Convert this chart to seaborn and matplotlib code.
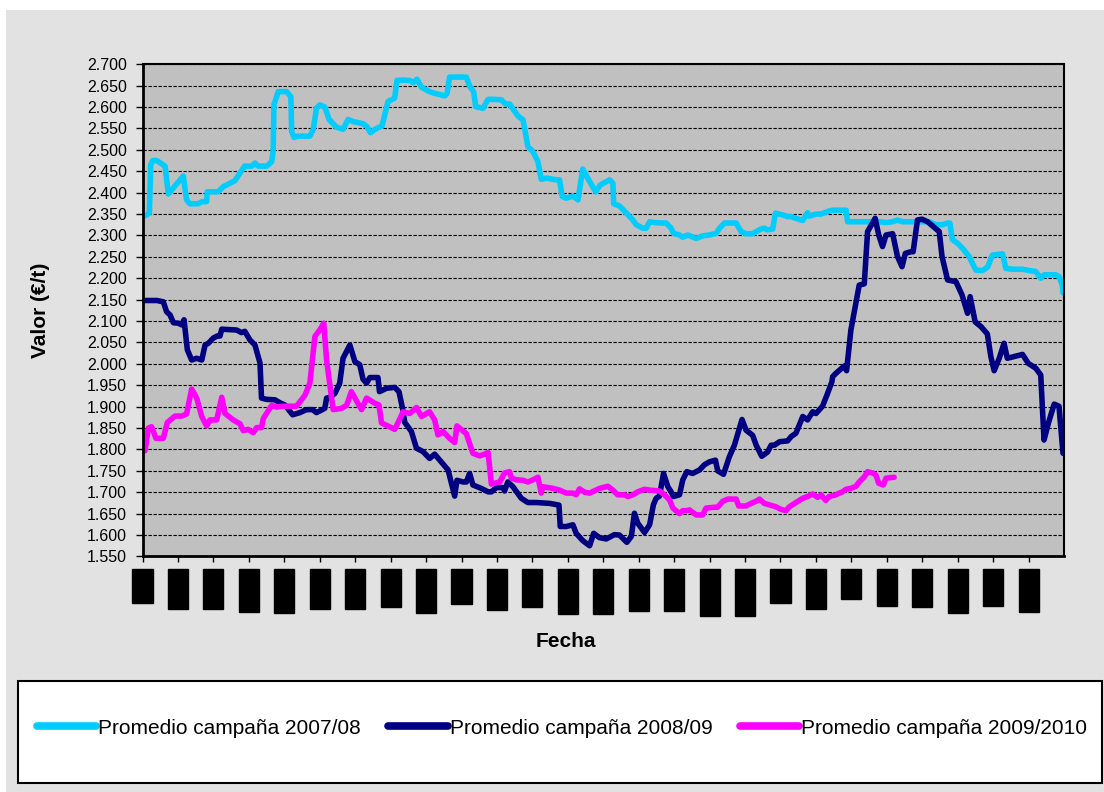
import pandas as pd
import matplotlib.pyplot as plt
import seaborn as sns
from matplotlib.lines import Line2D
from matplotlib.patches import Rectangle

# ---------------------------------------------------------------
# Datos (día de campaña, €/t)
# ---------------------------------------------------------------
dias_0708 = [1.0, 2.7, 3.2, 4.0, 5.6, 8.9, 10.2, 16.1, 17.4, 18.7, 22.0, 23.4, 25.3, 25.6, 29.9, 31.9,
             36.5, 40.3, 43.1, 44.4, 45.7, 49.0, 51.0, 51.6, 51.9, 53.6, 56.9, 58.6, 58.9, 59.8, 61.5,
             66.1, 67.4, 68.7, 70.0, 72.0, 73.7, 76.6, 79.2, 81.2, 83.2, 87.1, 88.7, 90.0, 92.4, 94.6,
             95.7, 97.0, 99.6, 100.5, 102.9, 105.6, 106.9, 108.4, 110.2, 113.4, 115.4, 119.4, 120.3,
             121.3, 127.9, 129.2, 130.8, 131.6, 134.5, 136.5, 138.4, 141.7, 143.4, 145.0, 148.3, 150.3,
             152.2, 154.2, 156.2, 157.5, 159.5, 163.4, 164.7, 165.8, 167.4, 170.0, 172.0, 173.9, 176.6,
             179.0, 180.8, 184.5, 185.8, 186.1, 188.4, 191.1, 193.7, 195.0, 197.6, 199.0, 200.3, 202.2,
             204.9, 206.8, 208.8, 209.7, 212.1, 213.4, 215.4, 218.7, 221.3, 223.9, 226.6, 227.9, 229.9,
             234.5, 236.4, 238.4, 241.0, 242.4, 244.3, 245.6, 246.9, 248.9, 250.0, 252.9, 254.8, 256.2,
             258.1, 260.8, 262.7, 263.4, 266.0, 268.0, 270.6, 272.6, 277.9, 278.5, 285.8, 291.0, 293.7,
             296.3, 298.2, 300.2, 305.5, 310.7, 313.4, 316.0, 318.0, 318.9, 319.9, 321.9, 323.9, 326.5,
             327.8, 329.2, 331.8, 333.8, 335.7, 339.7, 341.0, 343.6, 347.6, 350.2, 352.8, 354.8, 356.1,
             360.7, 362.0, 363.3, 363.6]
valores_0708 = [2346, 2352, 2465, 2475, 2475, 2462, 2397, 2439, 2383, 2374, 2374, 2379, 2379, 2402, 2402, 2414,
                2428, 2462, 2462, 2469, 2462, 2462, 2472, 2497, 2605, 2636, 2636, 2624, 2543, 2529, 2532,
                2532, 2547, 2597, 2605, 2600, 2571, 2553, 2548, 2571, 2566, 2561, 2554, 2540, 2550, 2556,
                2582, 2613, 2621, 2662, 2663, 2662, 2657, 2665, 2646, 2636, 2632, 2626, 2632,
                2670, 2670, 2649, 2636, 2601, 2597, 2618, 2618, 2617, 2607, 2607, 2579, 2570,
                2508, 2496, 2472, 2431, 2434, 2430, 2430, 2391, 2387, 2392, 2383, 2455, 2426,
                2402, 2418, 2430, 2422, 2374, 2369, 2352, 2336, 2325, 2317, 2317, 2332, 2330,
                2329, 2329, 2317, 2305, 2301, 2296, 2301, 2293, 2299, 2301, 2305, 2317, 2329,
                2329, 2309, 2304, 2304, 2309, 2315, 2317, 2313, 2315, 2352, 2348, 2344, 2344,
                2340, 2335, 2353, 2345, 2350, 2350, 2356, 2359, 2359, 2332, 2332, 2332, 2330,
                2332, 2336, 2332, 2332, 2332, 2325, 2325, 2329, 2329, 2290, 2282, 2270, 2251,
                2235, 2219, 2218, 2226, 2254, 2257, 2223, 2221, 2221, 2218, 2216, 2200, 2208,
                2208, 2204, 2184, 2166]

dias_0809 = [0.3, 5.6, 8.2, 9.5, 10.9, 12.2, 14.1, 15.5, 16.4, 17.7, 19.4, 21.4, 23.4, 24.7, 26.0, 27.9,
             29.5, 30.6, 31.3, 37.2, 39.1, 40.4, 42.4, 44.4, 46.4, 47.0, 49.0, 52.3, 54.3, 56.2, 59.3,
             62.1, 64.8, 67.2, 68.7, 72.0, 72.7, 74.0, 76.0, 77.9, 79.2, 81.9, 83.9, 85.8, 87.1, 88.5,
             89.8, 93.0, 93.6, 96.4, 99.6, 101.3, 102.7, 103.6, 106.2, 108.2, 110.8, 113.4, 115.4,
             117.4, 120.7, 122.0, 123.3, 124.2, 126.6, 127.9, 129.2, 130.5, 133.8, 136.5, 137.8, 139.8,
             142.4, 143.0, 144.3, 146.3, 149.6, 152.2, 155.5, 160.8, 164.5, 165.0, 167.4, 170.0, 171.3,
             173.9, 176.6, 178.2, 180.5, 183.2, 186.4, 188.4, 191.3, 193.1, 194.3, 195.6, 198.3, 200.3,
             201.8, 202.9, 204.2, 205.8, 207.5, 208.8, 209.7, 212.1, 213.4, 215.0, 217.3, 220.0, 221.9,
             223.9, 226.3, 227.2, 229.5, 231.8, 233.8, 236.8, 238.4, 241.0, 242.4, 244.6, 246.9, 248.3,
             249.6, 251.6, 254.8, 256.2, 258.1, 260.8, 262.7, 264.7, 266.0, 268.6, 270.6, 272.3, 272.6,
             273.9, 277.2, 278.1, 279.8, 281.8, 283.1, 285.1, 286.4, 289.4, 290.8, 292.3, 293.7, 296.3,
             298.2, 300.0, 301.3, 303.5, 304.4, 306.1, 307.9, 310.1, 312.7, 314.7, 315.8, 318.0, 321.3,
             323.7, 325.9, 326.9, 328.9, 331.2, 333.7, 335.1, 336.4, 338.4, 340.3, 341.6, 344.9, 347.6,
             349.9, 351.5, 352.8, 354.8, 356.1, 357.8, 360.1, 362.0, 363.6]
valores_0809 = [2148, 2148, 2145, 2122, 2114, 2096, 2095, 2091, 2103, 2033, 2009, 2013, 2009, 2044, 2048, 2060,
                2065, 2065, 2081, 2079, 2073, 2076, 2056, 2044, 2002, 1920, 1917, 1916, 1909, 1904, 1881,
                1886, 1893, 1893, 1886, 1896, 1920, 1922, 1931, 1955, 2013, 2044, 2005, 1998, 1964, 1955,
                1968, 1968, 1935, 1943, 1945, 1935, 1896, 1863, 1842, 1803, 1795, 1779, 1789,
                1775, 1752, 1721, 1691, 1728, 1724, 1724, 1744, 1717, 1709, 1701, 1701, 1711,
                1711, 1703, 1724, 1713, 1686, 1676, 1676, 1674, 1670, 1620, 1620, 1624, 1604,
                1587, 1575, 1604, 1594, 1591, 1601, 1600, 1583, 1597, 1651, 1628, 1606, 1624,
                1671, 1686, 1691, 1744, 1713, 1701, 1690, 1694, 1729, 1748, 1744, 1752, 1764,
                1771, 1775, 1750, 1742, 1783, 1810, 1870, 1845, 1833, 1810, 1784, 1794, 1810,
                1810, 1818, 1820, 1830, 1838, 1877, 1869, 1888, 1884, 1901, 1931, 1958, 1970,
                1978, 1995, 1984, 2079, 2142, 2184, 2187, 2309, 2340, 2301, 2274, 2301, 2304,
                2251, 2227, 2258, 2262, 2262, 2336, 2338, 2332, 2319, 2309, 2251, 2196, 2192,
                2161, 2118, 2157, 2098, 2087, 2070, 2017, 1984, 2013, 2048, 2013, 2018, 2022,
                2001, 1995, 1990, 1974, 1822, 1861, 1906, 1901, 1791]

dias_0910 = [1.0, 2.3, 3.6, 5.3, 8.2, 9.8, 12.8, 15.5, 17.4, 19.4, 21.4, 23.4, 25.3, 26.6, 29.3, 31.3,
             32.6, 35.8, 38.5, 39.8, 41.7, 43.7, 45.1, 47.0, 47.7, 51.0, 53.0, 55.6, 60.8, 64.1, 66.1,
             68.1, 70.0, 71.6, 72.7, 75.3, 78.6, 80.6, 82.5, 86.5, 88.5, 91.7, 93.4, 94.4, 99.6, 100.9,
             102.9, 105.6, 108.2, 110.2, 113.4, 115.4, 116.7, 118.7, 121.3, 123.3, 124.2, 127.9, 130.5,
             133.2, 135.1, 136.5, 137.8, 141.1, 143.0, 145.0, 145.7, 147.7, 150.3, 152.2, 154.2, 156.2,
             157.5, 158.1, 162.1, 164.7, 167.4, 170.0, 171.3, 172.6, 174.6, 176.6, 180.5, 183.8, 185.8,
             187.7, 190.4, 191.7, 193.7, 195.6, 198.3, 200.3, 204.2, 206.2, 208.2, 209.5, 212.1, 213.4,
             215.0, 216.0, 218.7, 221.3, 222.6, 225.9, 227.2, 229.2, 231.2, 234.5, 235.5, 238.4, 240.4,
             242.4, 243.7, 245.6, 250.2, 252.2, 254.2, 255.5, 258.1, 260.8, 262.7, 264.7, 266.7, 268.0,
             269.9, 271.2, 273.9, 275.2, 276.5, 277.9, 279.8, 281.8, 283.1, 285.1, 286.4, 288.4, 289.7,
             290.8, 292.6, 293.7, 296.9]
valores_0910 = [1797, 1850, 1853, 1826, 1826, 1863, 1878, 1878, 1883, 1941, 1920, 1877, 1855, 1869, 1869, 1922,
                1884, 1869, 1860, 1844, 1847, 1839, 1851, 1851, 1872, 1903, 1899, 1901, 1901, 1926, 1955,
                2064, 2079, 2095, 2009, 1893, 1896, 1903, 1935, 1893, 1920, 1908, 1904, 1862, 1847, 1862,
                1888, 1884, 1898, 1877, 1888, 1869, 1834, 1842, 1826, 1816, 1855, 1837, 1791,
                1785, 1789, 1793, 1719, 1724, 1745, 1748, 1733, 1729, 1728, 1724, 1729, 1735,
                1698, 1713, 1709, 1705, 1698, 1698, 1694, 1708, 1700, 1698, 1709, 1714, 1705,
                1694, 1694, 1690, 1694, 1701, 1707, 1705, 1703, 1694, 1682, 1663, 1650, 1657,
                1657, 1659, 1647, 1647, 1663, 1665, 1665, 1679, 1684, 1684, 1668, 1668, 1674,
                1679, 1684, 1674, 1666, 1660, 1657, 1666, 1676, 1686, 1690, 1696, 1688, 1694,
                1681, 1690, 1694, 1698, 1701, 1707, 1709, 1714, 1724, 1736, 1748, 1745, 1740,
                1721, 1717, 1733, 1735]

campanas = ["Promedio campaña 2007/08", "Promedio campaña 2008/09", "Promedio campaña 2009/2010"]
colores_campana = ["#00CCFF", "#000080", "#FF00FF"]

# fechas del eje x (una marca cada 14 días)
etiquetas_fecha = ["1-oct", "15-oct", "29-oct", "12-nov", "26-nov", "10-dic", "24-dic", "7-ene",
                   "21-ene", "4-feb", "18-feb", "3-mar", "17-mar", "31-mar", "14-abr", "28-abr",
                   "12-may", "26-may", "9-jun", "23-jun", "7-jul", "21-jul", "4-ago", "18-ago",
                   "1-sep", "15-sep"]
ticks_valor = list(range(1550, 2701, 50))

# ---------------------------------------------------------------
# Tabla larga para seaborn
# ---------------------------------------------------------------
df = pd.concat([
    pd.DataFrame({"dia": d, "valor": v, "campaña": n})
    for n, d, v in zip(campanas,
                       [dias_0708, dias_0809, dias_0910],
                       [valores_0708, valores_0809, valores_0910])
], ignore_index=True)
paleta = dict(zip(campanas, colores_campana))

sns.set_theme(style="white")
plt.rcParams["font.family"] = ["Liberation Sans", "DejaVu Sans"]

fig = plt.figure(figsize=(11.04, 7.92), dpi=100, facecolor="white")
fig.patches.append(Rectangle((6 / 1104, 0), 1, 782 / 792, transform=fig.transFigure,
                             facecolor="#e2e2e2", edgecolor="none", zorder=-10))
fig.patches.append(Rectangle((18 / 1104, 9 / 792), 1084 / 1104, 102 / 792, transform=fig.transFigure,
                             facecolor="white", edgecolor="black", linewidth=1.5, zorder=-5))

ax = fig.add_axes([0.1291, 0.2974, 0.8347, 0.6215])
ax.set_facecolor("#c0c0c0")

sns.lineplot(data=df, x="dia", y="valor", hue="campaña", palette=paleta, sort=False,
             estimator=None, linewidth=4.0, legend=False, ax=ax,
             solid_joinstyle="round", solid_capstyle="round")

ax.set_xlim(0, 364)
ax.set_ylim(1550, 2700)
ax.set_yticks(ticks_valor, labels=[f"{t:,}".replace(",", ".") for t in ticks_valor])
ax.set_xticks(list(range(0, 364, 14)), labels=etiquetas_fecha, rotation=90)
for lbl in ax.get_xticklabels():
    lbl.set_color("black")
    lbl.set_bbox(dict(boxstyle="square,pad=0.35", facecolor="black", edgecolor="black"))

ax.set_axisbelow(True)
ax.yaxis.grid(True, color="black", linestyle=(0, (3, 1.5)), linewidth=0.8)
ax.xaxis.grid(False)
for side, sp in ax.spines.items():
    sp.set_visible(True)
    sp.set_color("black")
    sp.set_linewidth(2 if side in ("left", "bottom") else 1.5)

ax.tick_params(axis="y", left=True, direction="out", length=5, width=1, color="black",
               labelsize=11.5, pad=6, labelcolor="black")
ax.tick_params(axis="x", bottom=True, direction="out", length=4, width=1, color="black",
               labelsize=8.3, pad=8.2)

ax.set_xlabel("Fecha", fontsize=15, fontweight="bold", color="black")
ax.xaxis.set_label_coords(0.459, -0.153)
ax.set_ylabel("Valor (€/t)", fontsize=15, fontweight="bold", color="black")
ax.yaxis.set_label_coords(-0.100, 0.5)

handles = [Line2D([], [], color=c, linewidth=5.5, solid_capstyle="round") for c in colores_campana]
fig.legend(handles, campanas, loc="center left", bbox_to_anchor=(37 / 1104, 0.0808), ncol=3,
           frameon=False, fontsize=15, handlelength=2.85, handletextpad=0.1, columnspacing=1.3,
           borderpad=0, borderaxespad=0, labelcolor="black")

fig.savefig("out.png", dpi=100, facecolor=fig.get_facecolor())
